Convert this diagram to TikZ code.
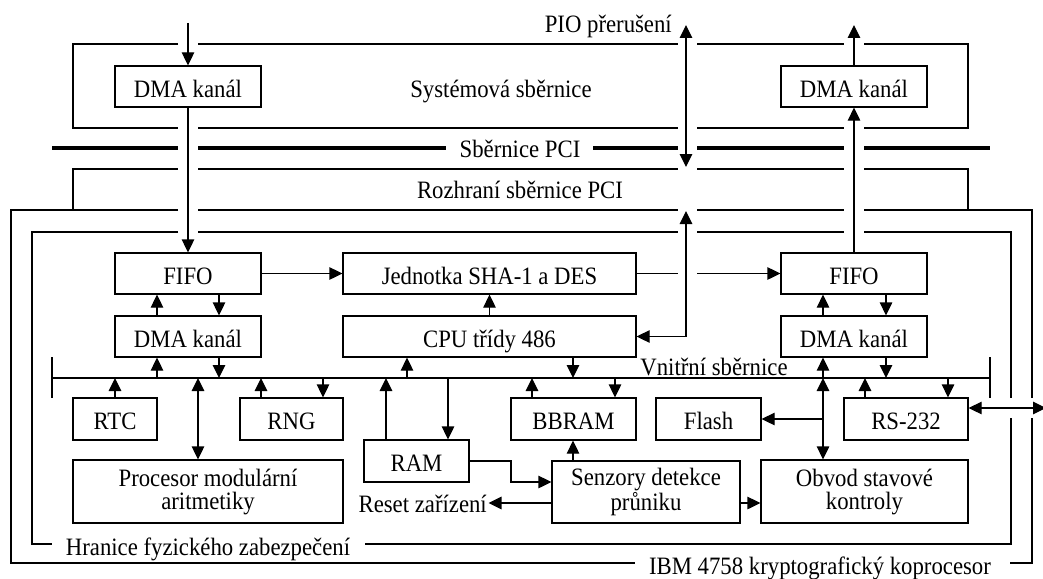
\documentclass[tikz,border=0pt]{standalone}
\usepackage{fontspec}
\setmainfont{Liberation Serif}[FakeStretch=0.91]
\usetikzlibrary{arrows.meta}
\begin{document}
\begin{tikzpicture}[x=1pt,y=-1pt,
  font=\fontsize{25}{23}\selectfont,
  frame/.style={line width=1.25pt},
  pcibus/.style={line width=3.3pt},
  box/.style={draw,line width=1.25pt,inner sep=0pt,text height=21.5pt,text depth=0pt},
  tallbox/.style={draw,line width=1.25pt,inner sep=0pt,align=center},
  arr/.style={line width=1.25pt,-{Triangle[length=13pt,width=12.5pt]}},
  darr/.style={line width=1.25pt,{Triangle[length=13pt,width=12.5pt]}-{Triangle[length=13pt,width=12.5pt]}},
  lbl/.style={inner sep=0pt,anchor=base}]
\useasboundingbox (0,0) rectangle (1043,578);

% host side and card boundaries
\draw[frame] (178,44) -- (73,44) -- (73,128) -- (178,128);
\draw[frame] (198,44) -- (678,44) (697,44) -- (844,44);
\draw[frame] (864,44) -- (968,44) -- (968,128) -- (864,128);
\draw[frame] (198,128) -- (678,128) (697,128) -- (844,128);
\draw[pcibus] (52,148) -- (178,148) (198,148) -- (446,148) (593,148) -- (678,148)
              (697,148) -- (844,148) (864,148) -- (990,148);
\draw[frame] (73,210) -- (73,169) -- (178,169) (198,169) -- (678,169)
             (697,169) -- (844,169) (864,169) -- (968,169) -- (968,210);
\draw[frame] (178,210) -- (11,210) -- (11,563) -- (635,563);
\draw[frame] (198,210) -- (678,210) (697,210) -- (844,210);
\draw[frame] (864,210) -- (1032,210) -- (1032,398) (1032,418) -- (1032,563) -- (1010,563);
\draw[frame] (178,232) -- (32,232) -- (32,544) -- (52,544);
\draw[frame] (198,232) -- (678,232) (697,232) -- (844,232);
\draw[frame] (864,232) -- (1011,232) -- (1011,398) (1011,418) -- (1011,544) -- (365,544);

% labels of the boundaries
\node[lbl,anchor=base east] (pio) at (672,33) {PIO přerušení};
\node[lbl] (sysbus) at (501,97) {Systémová sběrnice};
\node[lbl] (pcilbl) at (520,157) {Sběrnice PCI};
\node[lbl] (pciif) at (520,198) {Rozhraní sběrnice PCI};
\node[lbl] (secur) at (208,555) {Hranice fyzického zabezpečení};
\node[lbl] (card) at (820,574) {IBM 4758 kryptografický koprocesor};
\node[lbl] (intbus) at (714,375) {Vnitřní sběrnice};

% internal bus
\coordinate (busL) at (52,378);
\coordinate (busR) at (990,378);
\draw[frame] (busL) -- (busR);
\draw[frame] (52,357) -- (52,398) (990,357) -- (990,398);

% blocks
\node[box,minimum width=146pt,minimum height=41pt] (dmaTL) at (188,86.5) {DMA kanál};
\node[box,minimum width=146pt,minimum height=41pt] (dmaTR) at (854,86.5) {DMA kanál};
\node[box,minimum width=146pt,minimum height=41pt] (fifoL) at (188,273.5) {FIFO};
\node[box,minimum width=146pt,minimum height=41pt] (dmaL) at (188,336.5) {DMA kanál};
\node[box,minimum width=293pt,minimum height=41pt] (sha) at (489.5,273.5) {Jednotka SHA-1 a DES};
\node[box,minimum width=293pt,minimum height=41pt] (cpu) at (489.5,336.5) {CPU třídy 486};
\node[box,minimum width=146pt,minimum height=41pt] (fifoR) at (854,273.5) {FIFO};
\node[box,minimum width=146pt,minimum height=41pt] (dmaR) at (854,336.5) {DMA kanál};
\node[box,minimum width=84pt,minimum height=42pt] (rtc) at (115,419) {RTC};
\node[box,minimum width=103pt,minimum height=42pt] (rng) at (291.5,419) {RNG};
\node[tallbox,minimum width=270pt,minimum height=63pt] (proc) at (208,491.5) {Procesor modulární\\aritmetiky};
\node[box,minimum width=105pt,minimum height=42pt] (ram) at (416.5,461) {RAM};
\node[box,minimum width=125pt,minimum height=42pt] (bbram) at (573.5,419) {BBRAM};
\node[tallbox,minimum width=188pt,minimum height=62pt] (sens) at (646,492) {Senzory detekce\\průniku};
\node[box,minimum width=105pt,minimum height=42pt] (flash) at (708.5,419) {Flash};
\node[box,minimum width=124pt,minimum height=42pt] (rs) at (906,419) {RS-232};
\node[tallbox,minimum width=207pt,minimum height=63pt] (obvod) at (864.5,491.5) {Obvod stavové\\kontroly};
\node[lbl,anchor=base east,inner sep=1.5pt] (reset) at (488.5,512) {Reset zařízení};

% host connections
\coordinate (inL) at (188,23);
\coordinate (outR) at (854,25);
\coordinate (pioT) at (686,25);
\coordinate (pioB) at (686,167);
\coordinate (pciIn) at (686,211);
\coordinate (extRS) at (1046,408);
\draw[arr] (inL) -- (dmaTL.north);
\draw[arr] (dmaTL.south) -- (fifoL.north);
\draw[arr] (fifoR.north) -- (dmaTR.south);
\draw[arr] (dmaTR.north) -- (outR);
\draw[darr] (pioT) -- (pioB);
\draw[darr] (pciIn) |- (cpu.east);

% data path
\draw[arr] (fifoL.east) -- (sha.west);
\draw[frame] (sha.east) -- (678,273.5);
\draw[arr] (697,273.5) -- (fifoR.west);
\draw[arr] (cpu.north) -- (sha.south);

\draw[arr] (157,0 |- dmaL.north) -- (157,0 |- fifoL.south);
\draw[arr] (219,0 |- fifoL.south) -- (219,0 |- dmaL.north);
\draw[arr] (157,0 |- busL) -- (157,0 |- dmaL.south);
\draw[arr] (219,0 |- dmaL.south) -- (219,0 |- busL);

\draw[arr] (823,0 |- dmaR.north) -- (823,0 |- fifoR.south);
\draw[arr] (886,0 |- fifoR.south) -- (886,0 |- dmaR.north);
\draw[arr] (823,0 |- busL) -- (823,0 |- dmaR.south);
\draw[arr] (886,0 |- dmaR.south) -- (886,0 |- busL);

\draw[arr] (407,0 |- busL) -- (407,0 |- cpu.south);
\draw[arr] (573,0 |- cpu.south) -- (573,0 |- busL);

% peripherals on the internal bus
\draw[arr] (rtc.north) -- (115,0 |- busL);
\draw[darr] (198,0 |- busL) -- (198,0 |- proc.north);
\draw[arr] (261,0 |- rng.north) -- (261,0 |- busL);
\draw[arr] (323,0 |- busL) -- (323,0 |- rng.north);
\draw[arr] (386,0 |- ram.north) -- (386,0 |- busL);
\draw[arr] (448,0 |- busL) -- (448,0 |- ram.north);
\draw[arr] (532,0 |- bbram.north) -- (532,0 |- busL);
\draw[arr] (615,0 |- busL) -- (615,0 |- bbram.north);
\draw[arr] (865,0 |- rs.north) -- (865,0 |- busL);
\draw[arr] (948,0 |- busL) -- (948,0 |- rs.north);
\draw[darr] (823,0 |- busL) -- (823,0 |- obvod.north);
\draw[arr] (823,419) -- (flash.east);
\draw[darr] (rs.east |- 0,408) -- (extRS);

% tamper sensing
\draw[arr] (573,0 |- sens.north) -- (573,0 |- bbram.south);
\draw[arr] (ram.east) -- (511,461) |- (sens.west |- 0,482);
\draw[arr] (sens.west |- 0,503) -- (reset.east |- 0,503);
\draw[arr] (sens.east |- 0,503) -- (obvod.west |- 0,503);
\end{tikzpicture}
\end{document}
